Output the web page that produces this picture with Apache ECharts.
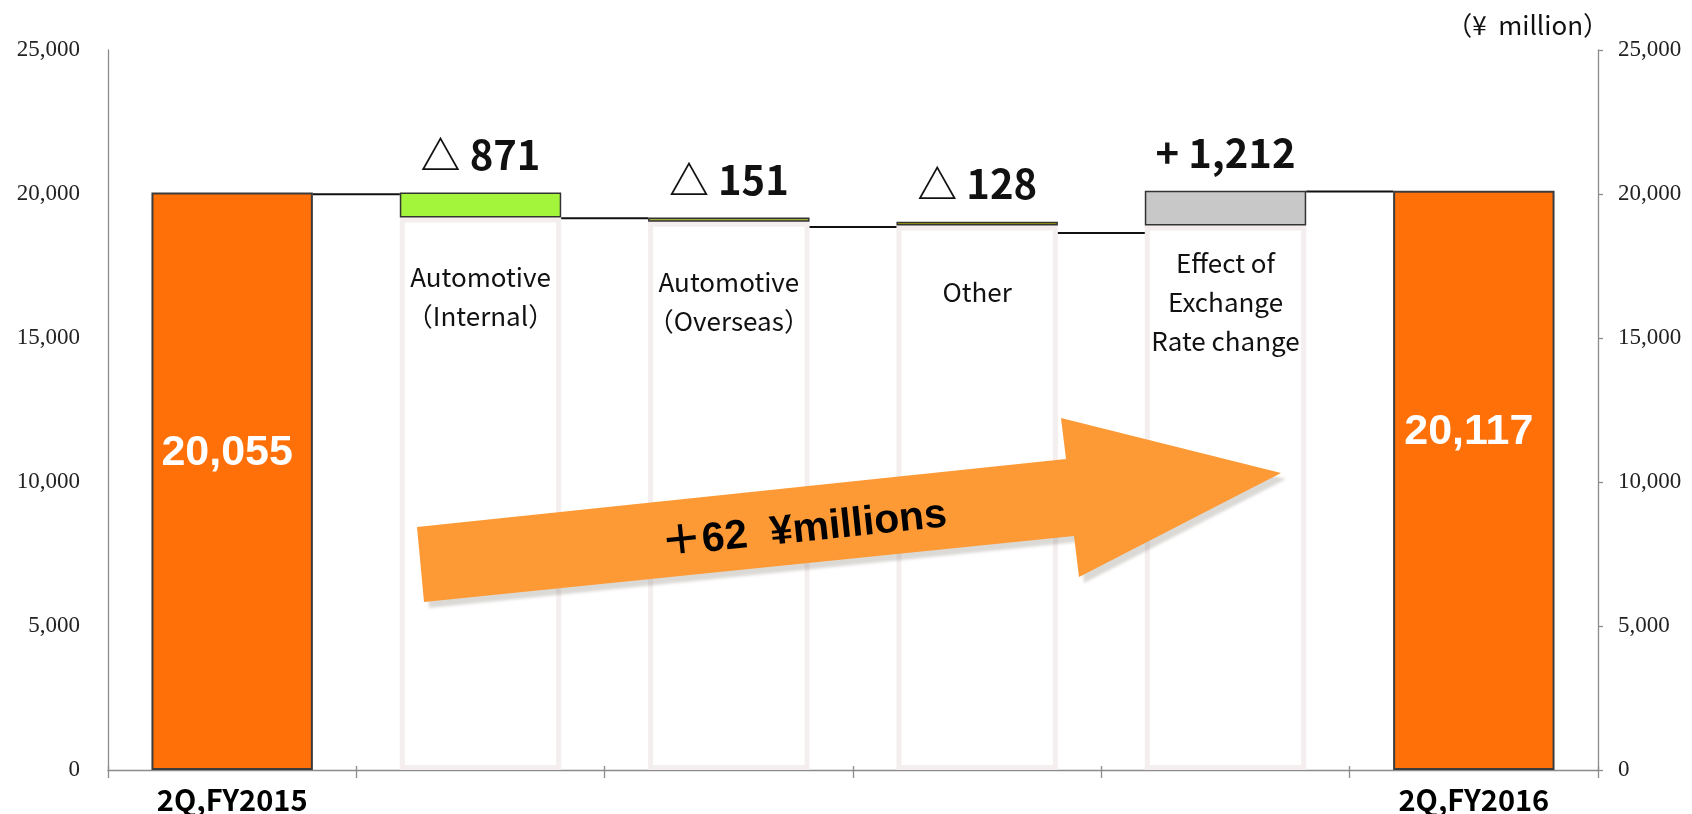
<!DOCTYPE html>
<html>
<head>
<meta charset="utf-8">
<title>2Q FY2015 - 2Q FY2016 bridge</title>
<script src="https://cdn.jsdelivr.net/npm/echarts@6.0.0/dist/echarts.min.js"></script>
<style>
  html, body { margin: 0; padding: 0; background: #fff; }
  #main { width: 1692px; height: 814px; }
</style>
</head>
<body>
<div id="main"></div>
<script>
const categories = ['2Q,FY2015', 'Automotive\n（Internal）', 'Automotive\n（Overseas）', 'Other', 'Effect of\nExchange\nRate change', '2Q,FY2016']
const startValue = 20055
const endValue = 20117
const deltas = [-871, -151, -128, 1212]
// connector lines sit where the original drew them
const connectorLevels = [19990, 19160, 18850, 18650, 20090]
const yTicks = [0, 5000, 10000, 15000, 20000, 25000]
const unitLabel = '（¥  million）'
const arrowText = '＋62  ¥millions'

const JP = '"Noto Sans CJK JP", "Noto Sans", sans-serif'
const stepColors = ['#a3f53b', '#a3ab3e', '#a8a400', '#c8c8c8']
const nameDistance = [40, 41, 47, 18]
const totalDistance = [239, 220]
const barPct = 0.65
const last = categories.length - 1

// waterfall: white base + floating step, totals on the ends
const baseData = ['-']
const stepData = ['-']
let running = startValue
deltas.forEach((d, i) => {
  const next = running + d
  baseData.push({
    value: Math.min(running, next),
    label: { distance: nameDistance[i] },
  })
  stepData.push({ value: Math.abs(d), itemStyle: { color: stepColors[i] } })
  running = next
})
baseData.push('-')
stepData.push('-')
const totalData = categories.map((c, i) => {
  if (i === 0) return { value: startValue, label: { distance: totalDistance[0] } }
  if (i === last) return { value: endValue, label: { distance: totalDistance[1] } }
  return '-'
})

const fmt = (v) => v.toLocaleString('en-US')

const chart = echarts.init(document.getElementById('main'))
const axisLineStyle = { color: '#8c8c8c', width: 1.3 }
const yLabel = { fontFamily: '"Liberation Serif", serif', fontSize: 23, color: '#222', formatter: fmt }

const option = {
  animation: false,
  title: {
    text: unitLabel,
    right: 83,
    top: 12,
    padding: 0,
    textStyle: { fontFamily: JP, fontSize: 26, fontWeight: 'normal', color: '#111' },
  },
  grid: { left: 108, right: 94, top: 50, bottom: 44, outerBoundsMode: 'none' },
  xAxis: [
    {
      type: 'category',
      data: categories,
      position: 'bottom',
      axisLine: { lineStyle: axisLineStyle },
      axisTick: { show: true, length: 8, lineStyle: axisLineStyle },
      axisLabel: {
        interval: 0,
        margin: 15,
        fontFamily: JP,
        fontSize: 29,
        fontWeight: 'bold',
        color: '#000',
        formatter: (v, i) => (i === 0 || i === last ? v : ''),
      },
    },
    {
      type: 'category',
      data: categories,
      position: 'bottom',
      axisLine: { show: false },
      axisTick: { show: true, alignWithLabel: true, inside: true, length: 5, lineStyle: axisLineStyle },
      axisLabel: { show: false },
    },
    {
      type: 'category',
      data: categories,
      position: 'bottom',
      axisLine: { show: false },
      axisTick: { show: true, inside: true, length: 4, lineStyle: axisLineStyle },
      axisLabel: { show: false },
    },
  ],
  yAxis: [
    {
      type: 'value',
      position: 'left',
      min: yTicks[0],
      max: yTicks[yTicks.length - 1],
      interval: yTicks[1] - yTicks[0],
      axisLine: { show: true, lineStyle: axisLineStyle },
      axisTick: { show: false },
      splitLine: { show: false },
      axisLabel: { ...yLabel, margin: 28 },
    },
    {
      type: 'value',
      position: 'right',
      min: yTicks[0],
      max: yTicks[yTicks.length - 1],
      interval: yTicks[1] - yTicks[0],
      axisLine: { show: true, lineStyle: axisLineStyle },
      axisTick: { show: true, length: 5, lineStyle: axisLineStyle },
      splitLine: { show: false },
      axisLabel: { ...yLabel, margin: 20 },
    },
  ],
  series: [
    {
      name: 'base',
      type: 'bar',
      stack: 'w',
      barWidth: barPct * 100 + '%',
      silent: true,
      data: baseData,
      itemStyle: { color: '#fff', borderColor: '#f4eeee', borderWidth: 5 },
      label: {
        show: true,
        position: 'insideTop',
        fontFamily: JP,
        fontSize: 26,
        lineHeight: 39,
        color: '#111',
        formatter: (p) => categories[p.dataIndex],
      },
    },
    {
      name: 'step',
      type: 'bar',
      stack: 'w',
      data: stepData,
      itemStyle: { borderColor: '#333', borderWidth: 1.5 },
      label: {
        show: true,
        position: 'top',
        distance: 18,
        fontFamily: JP,
        fontSize: 40,
        fontWeight: 'bold',
        color: '#111',
        formatter: (p) => {
          const d = deltas[p.dataIndex - 1]
          return (d < 0 ? '△ ' : '+ ') + fmt(Math.abs(d))
        },
      },
    },
    {
      name: 'total',
      type: 'bar',
      stack: 'w',
      data: totalData,
      itemStyle: { color: '#ff7009', borderColor: '#3c3c3c', borderWidth: 2 },
      label: {
        show: true,
        position: 'insideTop',
        offset: [-5, 0],
        fontFamily: '"Liberation Sans", Arial, sans-serif',
        fontSize: 43,
        fontWeight: 'bold',
        color: '#fff',
        formatter: (p) => fmt(p.value),
      },
    },
    {
      name: 'connector',
      type: 'custom',
      silent: true,
      z: 3,
      encode: { x: 0, y: 1 },
      data: connectorLevels.map((v, i) => [i, v]),
      renderItem(params, api) {
        const i = api.value(0)
        const level = api.value(1)
        const half = (api.size([1, 0])[0] * barPct) / 2
        const a = api.coord([i, level])
        const b = api.coord([i + 1, level])
        return {
          type: 'line',
          shape: { x1: a[0] + half, y1: a[1], x2: b[0] - half, y2: b[1] },
          style: { stroke: '#111', lineWidth: 2 },
        }
      },
    },
  ],
  graphic: [
    {
      type: 'polygon',
      z: 50,
      shape: {
        points: [[417, 527], [1066, 459], [1061, 418], [1281, 473], [1079, 577], [1074, 536], [424, 602]],
      },
      style: {
        fill: '#fd9a35',
        shadowColor: 'rgba(90,80,70,0.22)',
        shadowBlur: 3,
        shadowOffsetX: 5,
        shadowOffsetY: 6,
      },
    },
    {
      type: 'text',
      z: 51,
      x: 804,
      y: 530,
      rotation: 0.105,
      style: {
        text: arrowText,
        fill: '#000',
        font: 'bold 41px "Liberation Sans", "Noto Sans CJK JP", sans-serif',
        align: 'center',
        verticalAlign: 'middle',
      },
    },
  ],
}

chart.setOption(option)
</script>
</body>
</html>
